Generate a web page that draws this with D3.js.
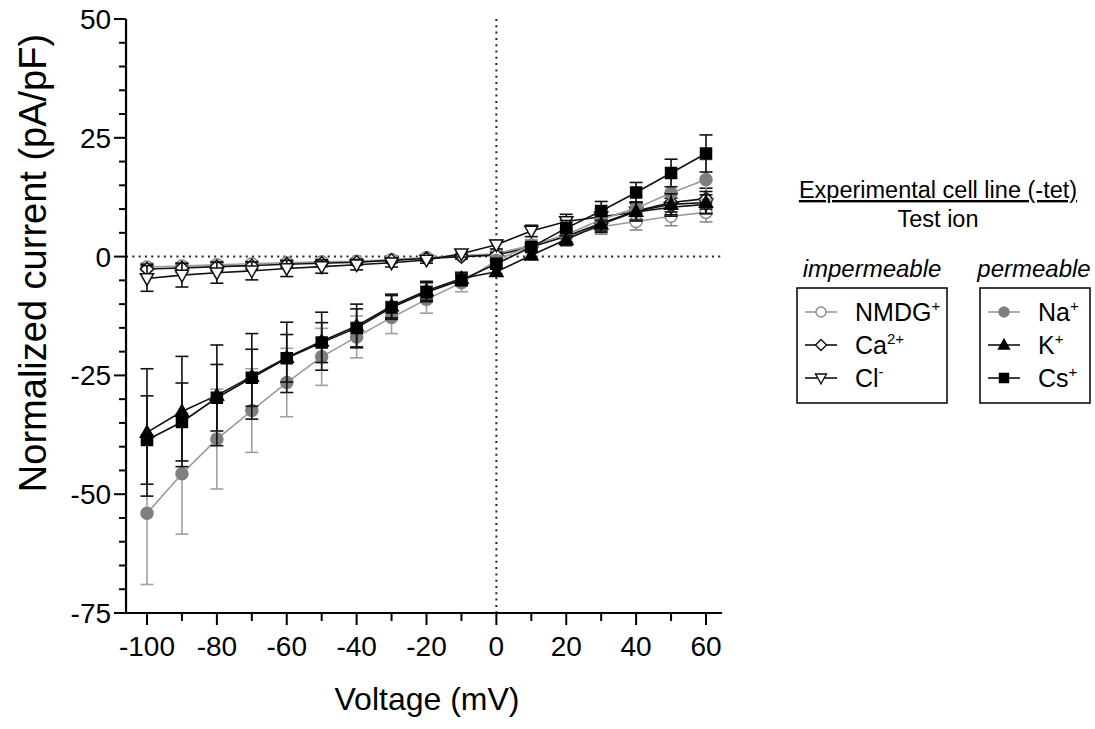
<!DOCTYPE html>
<html><head><meta charset="utf-8">
<script src="https://cdn.jsdelivr.net/npm/d3@7"></script>
<style>
html,body{margin:0;padding:0;background:#fff;}
text{font-family:"Liberation Sans",Arial,sans-serif;}
</style></head>
<body>
<svg id="chart" width="1095" height="729"></svg>
<script>
const voltage = [-100,-90,-80,-70,-60,-50,-40,-30,-20,-10,0,10,20,30,40,50,60];

const nmdgMean = [-2.2,-2.0,-1.7,-1.5,-1.3,-1.1,-1.0,-0.6,-0.2,0.2,0.6,2.4,4.2,6.3,7.4,8.5,9.3];
const nmdgErr  = [0.8,0.7,0.7,0.6,0.6,0.5,0.5,0.5,0.4,0.4,0.5,0.8,1.2,1.6,1.8,2.0,2.0];
const caMean   = [-2.6,-2.4,-2.1,-1.9,-1.6,-1.4,-1.2,-0.8,-0.4,0.0,0.3,2.0,4.3,7.0,9.6,11.4,12.2];
const caErr    = [1.0,0.9,0.9,0.8,0.7,0.7,0.6,0.5,0.5,0.5,0.6,0.8,1.2,1.6,1.8,2.0,2.2];
const clMean   = [-4.6,-3.9,-3.4,-3.0,-2.5,-2.1,-1.7,-1.3,-0.7,0.6,2.5,5.4,7.4,8.4,9.4,10.4,11.0];
const clErr    = [2.7,2.5,2.2,1.9,1.7,1.4,1.1,0.9,0.7,0.7,0.9,1.2,1.5,1.7,1.8,1.9,2.0];
const naMean   = [-54,-45.7,-38.4,-32.4,-26.5,-21.1,-16.9,-12.8,-9.0,-5.5,-0.8,2.4,4.6,7.8,10.2,13.4,16.2];
const naErr    = [15,12.7,10.5,8.8,7.2,6.0,4.4,3.4,2.9,1.9,1.0,1.2,1.6,2.0,2.6,3.2,4.2];
const kMean    = [-37,-32.6,-29.2,-25.2,-21.2,-17.8,-14.6,-10.4,-7.2,-4.6,-3.2,0.3,3.6,6.8,9.5,11.0,11.4];
const kErr     = [13.4,11.6,10.6,9.0,7.4,6.1,4.6,2.5,2.0,1.3,0.6,0.8,1.3,1.7,2.0,2.2,2.3];
const csMean   = [-38.6,-34.8,-29.7,-25.5,-21.4,-18.1,-15.0,-10.7,-7.5,-4.9,-1.5,2.0,6.0,9.6,13.5,17.6,21.7];
const csErr    = [9.3,8.2,7.0,6.0,5.0,4.2,4.0,2.5,2.0,1.2,0.8,1.0,1.6,2.0,2.1,2.9,3.9];

const xTicksMajor = [-100,-80,-60,-40,-20,0,20,40,60];
const xTicksMinor = [-90,-70,-50,-30,-10,10,30,50];
const yTicksMajor = [-75,-50,-25,0,25,50];
const yTicksMinor = d3.range(-70,50,5).filter(v => v % 25 !== 0);

const series = [
  {name:"NMDG", sup:"+", mean:nmdgMean, err:nmdgErr, shape:"circle", fill:"#fff", stroke:"#8a8a8a", line:"#9a9a9a", errColor:"#8a8a8a"},
  {name:"Ca", sup:"2+", mean:caMean, err:caErr, shape:"diamond", fill:"#fff", stroke:"#111", line:"#111", errColor:"#111"},
  {name:"Cl", sup:"-", mean:clMean, err:clErr, shape:"triDown", fill:"#fff", stroke:"#111", line:"#111", errColor:"#111"},
  {name:"Na", sup:"+", mean:naMean, err:naErr, shape:"circle", fill:"#7f7f7f", stroke:"#7f7f7f", line:"#9a9a9a", errColor:"#a0a0a0"},
  {name:"K", sup:"+", mean:kMean, err:kErr, shape:"triUp", fill:"#000", stroke:"#000", line:"#111", errColor:"#111"},
  {name:"Cs", sup:"+", mean:csMean, err:csErr, shape:"square", fill:"#000", stroke:"#000", line:"#111", errColor:"#111"}
];

const svg = d3.select("#chart");
const x = d3.scaleLinear().domain([-100,60]).range([147,706]);
const y = d3.scaleLinear().domain([-75,50]).range([613,19]);

// dotted reference lines
svg.append("line").attr("x1",x(-106)).attr("x2",x(64.5)).attr("y1",y(0)).attr("y2",y(0))
  .attr("stroke","#222").attr("stroke-width",2).attr("stroke-dasharray","2,4.3");
svg.append("line").attr("x1",x(0)).attr("x2",x(0)).attr("y1",y(50)).attr("y2",y(-75))
  .attr("stroke","#222").attr("stroke-width",2).attr("stroke-dasharray","2,4.3");

// axes
const axG = svg.append("g");
axG.append("line").attr("x1",x(-106)).attr("x2",x(-106)).attr("y1",y(50)).attr("y2",y(-75)+1)
  .attr("stroke","#000").attr("stroke-width",2.2);
axG.append("line").attr("x1",x(-106)-1).attr("x2",x(64.6)).attr("y1",y(-75)).attr("y2",y(-75))
  .attr("stroke","#000").attr("stroke-width",2.2);
yTicksMajor.forEach(v=>{
  axG.append("line").attr("x1",x(-106)-12).attr("x2",x(-106)).attr("y1",y(v)).attr("y2",y(v)).attr("stroke","#000").attr("stroke-width",2);
  axG.append("text").attr("x",x(-106)-15).attr("y",y(v)).attr("dy","0.36em").attr("text-anchor","end")
    .attr("font-size",28).text(v);
});
yTicksMinor.forEach(v=>{
  axG.append("line").attr("x1",x(-106)-7).attr("x2",x(-106)).attr("y1",y(v)).attr("y2",y(v)).attr("stroke","#000").attr("stroke-width",2);
});
xTicksMajor.forEach(v=>{
  axG.append("line").attr("x1",x(v)).attr("x2",x(v)).attr("y1",y(-75)).attr("y2",y(-75)+12).attr("stroke","#000").attr("stroke-width",2);
  axG.append("text").attr("x",x(v)).attr("y",y(-75)+43).attr("text-anchor","middle")
    .attr("font-size",28).text(v);
});
xTicksMinor.forEach(v=>{
  axG.append("line").attr("x1",x(v)).attr("x2",x(v)).attr("y1",y(-75)).attr("y2",y(-75)+8).attr("stroke","#000").attr("stroke-width",2);
});

// axis titles
svg.append("text").attr("x",427).attr("y",710).attr("text-anchor","middle").attr("font-size",32).text("Voltage (mV)");
svg.append("text").attr("transform","translate(46,263) rotate(-90)").attr("text-anchor","middle")
  .attr("font-size",38).text("Normalized current (pA/pF)");

// marker path generator
function markerPath(shape, s){
  switch(shape){
    case "circle": return d3.symbol(d3.symbolCircle, Math.PI*s*s)();
    case "square": return `M${-s},${-s}H${s}V${s}H${-s}Z`;
    case "diamond": return `M0,${-s*1.1}L${s*1.1},0L0,${s*1.1}L${-s*1.1},0Z`;
    case "triUp": return `M0,${-s*1.15}L${s*1.1},${s*0.8}L${-s*1.1},${s*0.8}Z`;
    case "triDown": return `M0,${s*1.15}L${s*1.1},${-s*0.8}L${-s*1.1},${-s*0.8}Z`;
  }
}
const line = d3.line().x(d=>x(d.v)).y(d=>y(d.m));

series.forEach(s=>{
  const pts = voltage.map((v,i)=>({v, m:s.mean[i], e:s.err[i]}));
  const g = svg.append("g");
  pts.forEach(p=>{
    g.append("line").attr("x1",x(p.v)).attr("x2",x(p.v)).attr("y1",y(p.m+p.e)).attr("y2",y(p.m-p.e))
      .attr("stroke",s.errColor).attr("stroke-width",1.6);
    [p.m+p.e, p.m-p.e].forEach(val=>{
      g.append("line").attr("x1",x(p.v)-6.5).attr("x2",x(p.v)+6.5).attr("y1",y(val)).attr("y2",y(val))
        .attr("stroke",s.errColor).attr("stroke-width",1.6);
    });
  });
  g.append("path").datum(pts).attr("d",line).attr("fill","none").attr("stroke",s.line).attr("stroke-width",1.6);
  g.selectAll("path.mk").data(pts).join("path").attr("class","mk")
    .attr("d",markerPath(s.shape, s.shape==="square"?5.5:6))
    .attr("transform",d=>`translate(${x(d.v)},${y(d.m)})`)
    .attr("fill",s.fill).attr("stroke",s.stroke).attr("stroke-width",1.5);
});

// legend
const lg = svg.append("g");
lg.append("text").attr("x",938).attr("y",198).attr("text-anchor","middle").attr("font-size",23.5)
  .attr("text-decoration","underline").text("Experimental cell line (-tet)");
lg.append("text").attr("x",938).attr("y",227).attr("text-anchor","middle").attr("font-size",23.5).text("Test ion");
lg.append("text").attr("x",872).attr("y",277).attr("text-anchor","middle").attr("font-size",24)
  .attr("font-style","italic").text("impermeable");
lg.append("text").attr("x",1034).attr("y",277).attr("text-anchor","middle").attr("font-size",24)
  .attr("font-style","italic").text("permeable");
lg.append("rect").attr("x",797).attr("y",288).attr("width",150).attr("height",115).attr("fill","none").attr("stroke","#000").attr("stroke-width",1.5);
lg.append("rect").attr("x",980).attr("y",288).attr("width",110).attr("height",115).attr("fill","none").attr("stroke","#000").attr("stroke-width",1.5);

const legendLabels = ["NMDG","Ca","Cl","Na","K","Cs"];
series.forEach((s,i)=>{
  const col = i<3 ? 0 : 1;
  const row = i%3;
  const bx = col===0 ? 805 : 988;
  const cy = 312 + row*33;
  lg.append("line").attr("x1",bx).attr("x2",bx+32).attr("y1",cy).attr("y2",cy).attr("stroke",s.line).attr("stroke-width",1.6);
  lg.append("path").attr("d",markerPath(s.shape, s.shape==="square"?4.5:5)).attr("transform",`translate(${bx+16},${cy})`)
    .attr("fill",s.fill).attr("stroke",s.stroke).attr("stroke-width",1.4);
  const t = lg.append("text").attr("x",bx+50).attr("y",cy+9).attr("font-size",25);
  t.append("tspan").text(legendLabels[i]);
  t.append("tspan").attr("font-size",15).attr("dy",-10).text(s.sup);
});
</script>
</body></html>
